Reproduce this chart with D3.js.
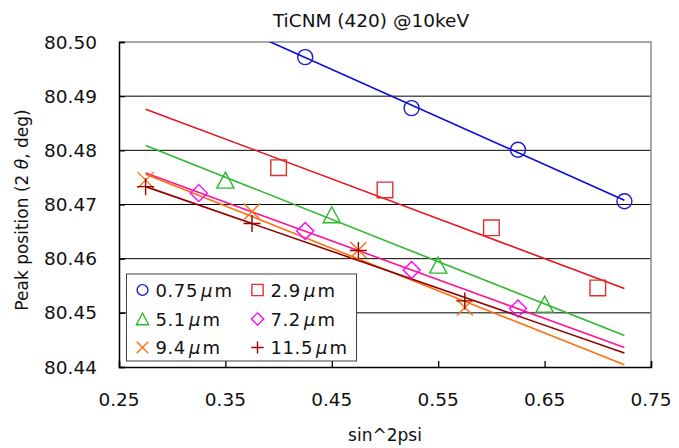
<!DOCTYPE html>
<html><head><meta charset="utf-8">
<script src="https://cdn.jsdelivr.net/npm/d3@7"></script>
<style>
html,body{margin:0;padding:0;background:#fff;}
svg{display:block;font-family:"DejaVu Sans",Verdana,sans-serif;}
</style></head>
<body>
<svg id="chart" width="679" height="448"></svg>
<script>
// ---- data ----
const title = "TiCNM (420) @10keV";
const xLabel = "sin^2psi";
const xTicks = [0.25, 0.35, 0.45, 0.55, 0.65, 0.75];
const yTicks = [80.44, 80.45, 80.46, 80.47, 80.48, 80.49, 80.50];
const seriesNames = ["0.75", "2.9", "5.1", "7.2", "9.4", "11.5"];

const x075 = [0.425, 0.525, 0.625, 0.725];
const y075 = [80.4972, 80.4878, 80.4801, 80.4706];
const x29 = [0.40, 0.50, 0.60, 0.70];
const y29 = [80.4768, 80.4727, 80.4657, 80.4546];
const x51 = [0.35, 0.45, 0.55, 0.65];
const y51 = [80.4745, 80.4681, 80.4588, 80.4516];
const x72 = [0.325, 0.425, 0.525, 0.625];
const y72 = [80.4721, 80.4651, 80.4579, 80.4508];
const x94 = [0.275, 0.375, 0.475, 0.575];
const y94 = [80.4745, 80.4687, 80.4616, 80.4510];
const x115 = [0.275, 0.375, 0.475, 0.575];
const y115 = [80.4733, 80.4665, 80.4615, 80.4522];

// trend lines: value at trendX[0] and trendX[1]
const trendX = [0.275, 0.725];
const trendStart = [80.5103, 80.4876, 80.4809, 80.4758, 80.4756, 80.4733];
const trendEnd   = [80.4708, 80.4545, 80.4458, 80.4436, 80.4404, 80.4426];

// ---- styling ----
const markerColors = ["#1a1ad8", "#e0302e", "#2db82d", "#ff00ff", "#ff7010", "#960000"];
const lineColors   = ["#0a0ae0", "#e8141c", "#2db82d", "#ff1493", "#ff7010", "#900000"];
const shapes = ["circle", "square", "triangle", "diamond", "x", "plus"];

const xs = [x075, x29, x51, x72, x94, x115];
const ys = [y075, y29, y51, y72, y94, y115];
const series = seriesNames.map((n, i) => ({
  name: n, shape: shapes[i], mc: markerColors[i], lc: lineColors[i],
  pts: xs[i].map((v, j) => ({x: v, y: ys[i][j]})),
  trend: [{x: trendX[0], y: trendStart[i]}, {x: trendX[1], y: trendEnd[i]}]
}));

const L = 119, R = 651, T = 42, B = 367;
const svg = d3.select("#chart");
const xS = d3.scaleLinear().domain([0.25, 0.75]).range([L, R]);
const yS = d3.scaleLinear().domain([80.44, 80.50]).range([B, T]);

function shapePath(s, k) {
  const p = d3.path();
  if (s === "circle") { p.arc(0, 0, 7.5 * k, 0, Math.PI * 2); }
  else if (s === "square") { const h = 7.8 * k; p.rect(-h, -h, 2 * h, 2 * h); }
  else if (s === "triangle") { p.moveTo(0, -8 * k); p.lineTo(8.6 * k, 8 * k); p.lineTo(-8.6 * k, 8 * k); p.closePath(); }
  else if (s === "diamond") { const h = 8.5 * k; p.moveTo(0, -h); p.lineTo(h, 0); p.lineTo(0, h); p.lineTo(-h, 0); p.closePath(); }
  else if (s === "x") { const h = 8 * k; p.moveTo(-h, -h); p.lineTo(h, h); p.moveTo(h, -h); p.lineTo(-h, h); }
  else if (s === "plus") { const h = 8.5 * k; p.moveTo(-h, 0); p.lineTo(h, 0); p.moveTo(0, -h); p.lineTo(0, h); }
  return p.toString();
}

// title
svg.append("text").attr("x", 371).attr("y", 27).attr("text-anchor", "middle")
  .attr("font-size", 18.5).attr("fill", "#111").text(title);

// gridlines
svg.append("g").selectAll("line").data(yTicks.slice(1, -1)).join("line")
  .attr("x1", L).attr("x2", R).attr("y1", d => yS(d)).attr("y2", d => yS(d))
  .attr("stroke", "#000").attr("stroke-width", 1);

// frame (top/right gray)
svg.append("path").attr("d", `M${L},${T}H${R}V${B}`).attr("fill", "none")
  .attr("stroke", "#8c8c8c").attr("stroke-width", 1.5);

// axes
const yAxis = d3.axisRight(yS).tickValues(yTicks).tickSize(6).tickFormat("");
const gy = svg.append("g").attr("transform", `translate(${L},0)`).call(yAxis);
const xAxis = d3.axisTop(xS).tickValues(xTicks).tickSize(6).tickFormat("");
const gx = svg.append("g").attr("transform", `translate(0,${B})`).call(xAxis);
[gx, gy].forEach(g => { g.select(".domain").attr("stroke", "#000").attr("stroke-width", 1.5);
  g.selectAll(".tick line").attr("stroke", "#000").attr("stroke-width", 1.3); });

// tick labels
svg.append("g").selectAll("text").data(yTicks).join("text")
  .attr("x", 97).attr("y", d => yS(d)).attr("dy", "0.36em").attr("text-anchor", "end")
  .attr("font-size", 18.5).attr("fill", "#111").text(d => d3.format(".2f")(d));
svg.append("g").selectAll("text").data(xTicks).join("text")
  .attr("x", d => xS(d)).attr("y", 406).attr("text-anchor", "middle")
  .attr("font-size", 18.5).attr("fill", "#111").text(d => d3.format(".2f")(d));

// axis titles
svg.append("text").attr("x", 385).attr("y", 441).attr("text-anchor", "middle")
  .attr("font-size", 17).attr("fill", "#111").text(xLabel);
const yl = svg.append("text").attr("transform", "translate(28,210) rotate(-90)")
  .attr("text-anchor", "middle").attr("font-size", 17).attr("fill", "#111");
yl.append("tspan").text("Peak position (2 ");
yl.append("tspan").attr("font-style", "italic").text("θ");
yl.append("tspan").text(", deg)");

// clip
svg.append("clipPath").attr("id", "clip").append("rect")
  .attr("x", L).attr("y", T).attr("width", R - L).attr("height", B - T);

// trend lines
const line = d3.line().x(d => xS(d.x)).y(d => yS(d.y));
svg.append("g").attr("clip-path", "url(#clip)").selectAll("path").data(series).join("path")
  .attr("d", d => line(d.trend)).attr("fill", "none")
  .attr("stroke", d => d.lc).attr("stroke-width", 1.6);

// markers
series.forEach(s => {
  svg.append("g").selectAll("path").data(s.pts).join("path")
    .attr("transform", d => `translate(${xS(d.x)},${yS(d.y)})`)
    .attr("d", shapePath(s.shape, 1)).attr("fill", "none")
    .attr("stroke", s.mc).attr("stroke-width", 1.4);
});

// legend
const lg = svg.append("g");
lg.append("rect").attr("x", 126.5).attr("y", 274).attr("width", 230).attr("height", 87)
  .attr("fill", "#fff").attr("stroke", "#404040").attr("stroke-width", 1);
const colX = [142.5, 257.5], rowY = [290, 319, 347.5];
series.forEach((s, i) => {
  const cx = colX[i % 2], cy = rowY[Math.floor(i / 2)];
  lg.append("path").attr("transform", `translate(${cx},${cy})`)
    .attr("d", shapePath(s.shape, 0.72)).attr("fill", "none")
    .attr("stroke", s.mc).attr("stroke-width", 1.4);
  const t = lg.append("text").attr("x", cx + 13).attr("y", cy + 6.5)
    .attr("font-size", 18).attr("letter-spacing", 0.6).attr("fill", "#111");
  t.append("tspan").text(s.name);
  t.append("tspan").attr("font-style", "italic").attr("dx", 3).text("μ");
  t.append("tspan").attr("dx", 1.5).text("m");
});
</script>
</body></html>
